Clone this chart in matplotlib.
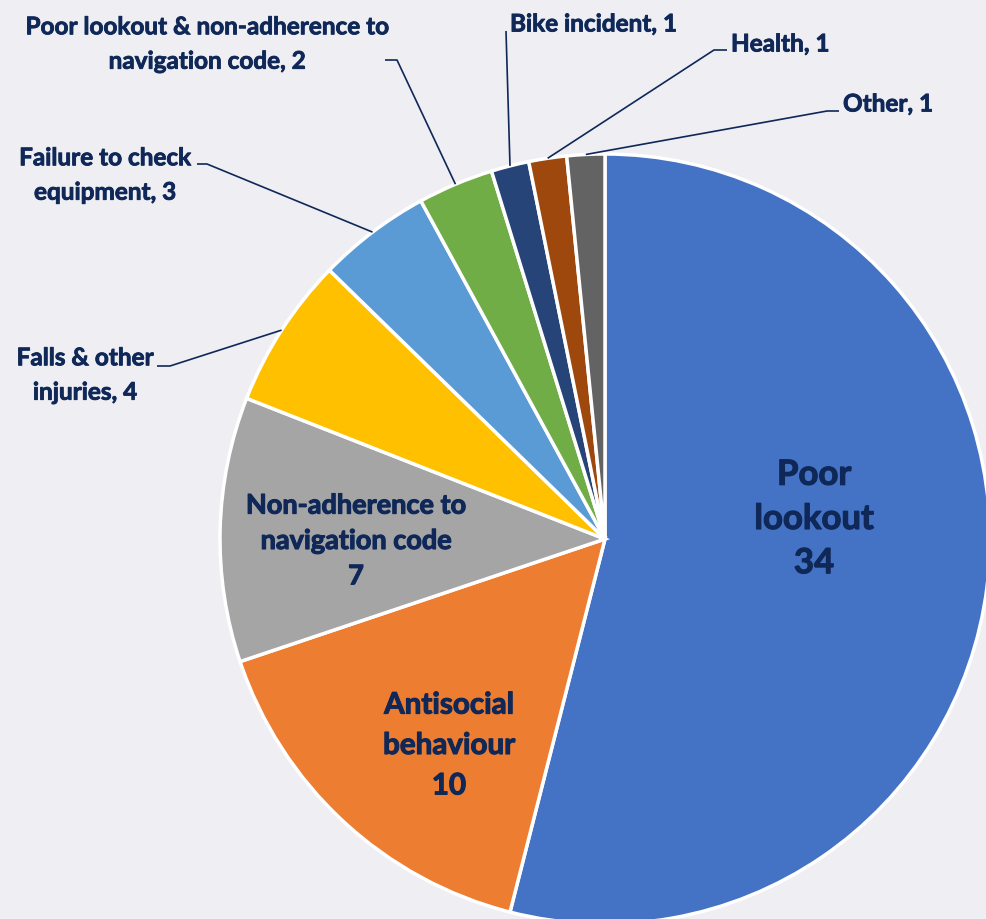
import numpy as np
import matplotlib
matplotlib.use("Agg")
import matplotlib.pyplot as plt
import matplotlib.patheffects as pe

categories = ["Poor lookout", "Antisocial behaviour", "Non-adherence to navigation code",
              "Falls & other injuries", "Failure to check equipment",
              "Poor lookout & non-adherence to navigation code", "Bike incident", "Health", "Other"]
values = [34, 10, 7, 4, 3, 2, 1, 1, 1]
colors = ["#4472C4", "#ED7D31", "#A5A5A5", "#FFC000", "#5B9BD5",
          "#70AD47", "#264478", "#9E480E", "#636363"]

W, H = 987, 920
BG = "#EEEEF3"
NAVY = "#0F2858"
FONT = "Lato"

fig = plt.figure(figsize=(W / 100, H / 100), dpi=100, facecolor=BG)
ax = fig.add_axes([0, 0, 1, 1])
ax.set_facecolor(BG)

def Y(yp):
    return H - yp

cx, cy, R = 605, Y(540), 385
ax.pie(values, colors=colors, startangle=90, counterclock=False, center=(cx, cy), radius=R,
       wedgeprops=dict(edgecolor="white", linewidth=2.5), frame=True)
ax.set_xlim(0, W)
ax.set_ylim(0, H)
ax.set_aspect("auto")
ax.axis("off")

total = sum(values)
cum = np.cumsum([0] + values)

def anchor(i):
    mid = (cum[i] + cum[i + 1]) / 2 / total * 2 * np.pi
    return cx + R * np.sin(mid), cy + R * np.cos(mid)

inner_fx = [pe.withStroke(linewidth=0.8, foreground=NAVY)]
outer_fx = [pe.withStroke(linewidth=0.6, foreground=NAVY)]

# inside labels
ax.text(814, Y(520), "Poor\nlookout\n34", ha="center", va="center", fontsize=25,
        fontweight="bold", color=NAVY, family=FONT, linespacing=1.47, path_effects=inner_fx)
ax.text(449, Y(746), "Antisocial\nbehaviour\n10", ha="center", va="center", fontsize=21.3,
        fontweight="bold", color=NAVY, family=FONT, linespacing=1.54, path_effects=inner_fx)
ax.text(356, Y(542), "Non-adherence to\nnavigation code\n7", ha="center", va="center", fontsize=19.5,
        fontweight="bold", color=NAVY, family=FONT, linespacing=1.57, path_effects=inner_fx)

# outside labels: (index, text, text x, text y, ha, elbow, end)
outside = [
    (5, "Poor lookout & non-adherence to\nnavigation code, 2", 207, 45, "center", (397, 61), (385, 61)),
    (4, "Failure to check\nequipment, 3", 105, 176, "center", (207, 165), (197, 165)),
    (3, "Falls & other\ninjuries, 4", 85, 376, "center", (170, 367), (157, 367)),
    (6, "Bike incident, 1", 510, 25, "left", (506, 32), (506, 32)),
    (7, "Health, 1", 731, 45, "left", (714, 51), (727, 51)),
    (8, "Other, 1", 843, 105, "left", (827, 112), (839, 112)),
]
for i, txt, tx, ty, ha, elbow, end in outside:
    axp, ayp = anchor(i)
    ax.plot([axp, elbow[0], end[0]], [ayp, Y(elbow[1]), Y(end[1])], color=NAVY, lw=1.2,
            solid_capstyle="butt")
    ax.text(tx, Y(ty), txt, ha=ha, va="center", fontsize=17.5, fontweight="bold", color=NAVY,
            family=FONT, linespacing=1.6, multialignment="center", path_effects=outer_fx)

fig.savefig("out.png", dpi=100, facecolor=BG)
